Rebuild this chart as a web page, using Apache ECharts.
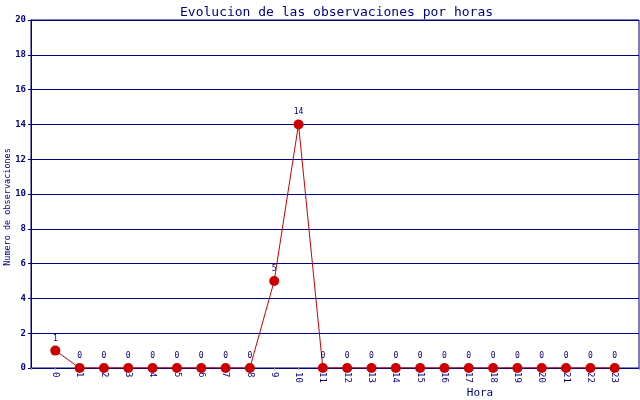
<!DOCTYPE html>
<html><head><meta charset="utf-8">
<script src="https://cdn.jsdelivr.net/npm/echarts@6/dist/echarts.min.js"></script>
<style>html,body{margin:0;padding:0;background:#fff}#c{width:640px;height:400px}</style>
</head><body><div id="c"></div>
<script>
const hours = [0,1,2,3,4,5,6,7,8,9,10,11,12,13,14,15,16,17,18,19,20,21,22,23];
const observations = [1,0,0,0,0,0,0,0,0,5,14,0,0,0,0,0,0,0,0,0,0,0,0,0];
const yTicks = [0,2,4,6,8,10,12,14,16,18,20];
const NAVY = '#000080', RED = '#cc0000', FONT = 'DejaVu Sans Mono';
const chart = echarts.init(document.getElementById('c'));
chart.setOption({
  animation: false,
  title: { text: 'Evolucion de las observaciones por horas', left: 175, top: 1,
    textStyle: { color: NAVY, fontFamily: FONT, fontSize: 13, fontWeight: 'normal' } },
  grid: { left: 31, right: 1, top: 20, bottom: 32, show: true, borderColor: NAVY, borderWidth: 1,
    containLabel: false, outerBoundsMode: 'none' },
  xAxis: {
    type: 'value', min: -1, max: 24, interval: 1,
    name: 'Hora', nameLocation: 'middle', nameGap: 20, nameMoveOverlap: false,
    nameTextStyle: { color: NAVY, fontFamily: FONT, fontSize: 11, padding: [0,0,0,290] },
    axisLine: { onZero: false, lineStyle: { color: NAVY } },
    axisTick: { show: true, length: 2, lineStyle: { color: '#999' } },
    splitLine: { show: false },
    axisLabel: { rotate: -90, color: NAVY, fontFamily: FONT, fontSize: 9, margin: 4,
      formatter: v => (hours.indexOf(v) >= 0 ? String(v) : '') }
  },
  yAxis: {
    type: 'value', min: yTicks[0], max: yTicks[yTicks.length-1], interval: 2,
    name: 'Numero de observaciones', nameLocation: 'middle', nameGap: 19, nameMoveOverlap: false,
    nameTextStyle: { color: NAVY, fontFamily: FONT, fontSize: 8.5, padding: [0, 26, 0, 0] },
    axisLine: { show: true, onZero: false, lineStyle: { color: NAVY } },
    axisTick: { show: true, length: 3, lineStyle: { color: NAVY } },
    splitLine: { show: true, lineStyle: { color: NAVY, width: 1 } },
    axisLabel: { color: NAVY, fontFamily: FONT, fontSize: 9, fontWeight: 'bold', margin: 5 }
  },
  series: [{
    type: 'line',
    data: hours.map((h, i) => [h, observations[i]]),
    symbol: 'circle', symbolSize: 10,
    itemStyle: { color: RED },
    lineStyle: { color: RED, width: 1 },
    label: { show: true, position: 'top', distance: 3, rotate: 0, color: NAVY, fontFamily: FONT, fontSize: 8,
      formatter: p => String(p.value[1]) }
  }]
});
</script></body></html>
